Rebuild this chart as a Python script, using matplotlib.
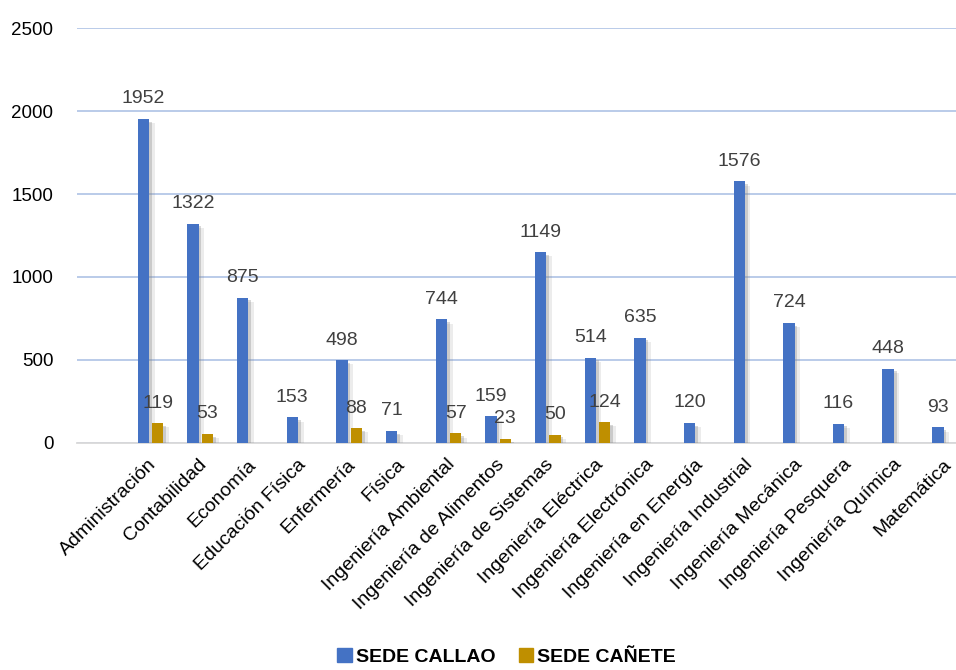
import numpy as np
import matplotlib
matplotlib.use("Agg")
import matplotlib.pyplot as plt
import matplotlib.patheffects as pe
from matplotlib.patches import Patch

plt.rcParams['font.family'] = ['Liberation Sans', 'DejaVu Sans']

carreras = ["Administración", "Contabilidad", "Economía", "Educación Física",
            "Enfermería", "Física", "Ingeniería Ambiental", "Ingeniería de Alimentos",
            "Ingeniería de Sistemas", "Ingeniería Eléctrica", "Ingeniería Electrónica",
            "Ingeniería en Energía", "Ingeniería Industrial", "Ingeniería Mecánica",
            "Ingeniería Pesquera", "Ingeniería Química", "Matemática"]
callao = [1952, 1322, 875, 153, 498, 71, 744, 159, 1149, 514, 635, 120, 1576, 724, 116, 448, 93]
canete = [119, 53, 0, 0, 88, 0, 57, 23, 50, 124, 0, 0, 0, 0, 0, 0, 0]

azul = "#4472C4"
dorado = "#BF8F00"

fig = plt.figure(figsize=(9.56, 6.7), dpi=100)
ax = fig.add_axes([0.0805, 0.339, 0.9195, 0.619])

x = np.arange(len(carreras))
w = 0.23
off = 0.145
sombra = [pe.SimplePatchShadow(offset=(2, -2), shadow_rgbFace='#808080', alpha=0.3),
          pe.SimplePatchShadow(offset=(4, -3), shadow_rgbFace='#808080', alpha=0.15),
          pe.Normal()]

b1 = ax.bar(x - off, callao, w, color=azul, zorder=3)
b2 = ax.bar(x + off, canete, w, color=dorado, zorder=3)
for b in list(b1) + list(b2):
    b.set_path_effects(sombra)

for xi, v in zip(x, callao):
    ax.text(xi - off, v + 70, str(v), ha='center', va='bottom', fontsize=14, color='#404040')
for xi, v in zip(x, canete):
    if v > 0:
        ax.text(xi + off, v + 70, str(v), ha='center', va='bottom', fontsize=14, color='#404040')

ax.set_ylim(0, 2500)
ax.set_xlim(-1.48, 16.22)
ax.set_yticks([0, 500, 1000, 1500, 2000, 2500])
ax.tick_params(axis='y', length=0, labelsize=13.5, pad=17)
ax.tick_params(axis='x', length=0)
ax.yaxis.grid(True, color='#B4C7E7', linewidth=1.3, zorder=0)
ax.set_axisbelow(True)
for s in ['top', 'right', 'left']:
    ax.spines[s].set_visible(False)
ax.spines['bottom'].set_color('#D9D9D9')
ax.spines['bottom'].set_linewidth(1.3)

ax.set_xticks(x - 0.05)
ax.set_xticklabels(carreras, rotation=45, ha='right', va='top', rotation_mode='anchor', fontsize=14)
for lbl in ax.get_xticklabels():
    lbl.set_y(-0.02)

handles = [Patch(color=azul, label="SEDE CALLAO"), Patch(color=dorado, label="SEDE CAÑETE")]
fig.legend(handles=handles, loc='lower center', bbox_to_anchor=(0.53, -0.02), ncol=2, frameon=False,
           prop={'weight': 'bold', 'size': 14}, handlelength=0.75, handleheight=0.75,
           handletextpad=0.2, columnspacing=1.2)

fig.savefig("out.png", dpi=100)
